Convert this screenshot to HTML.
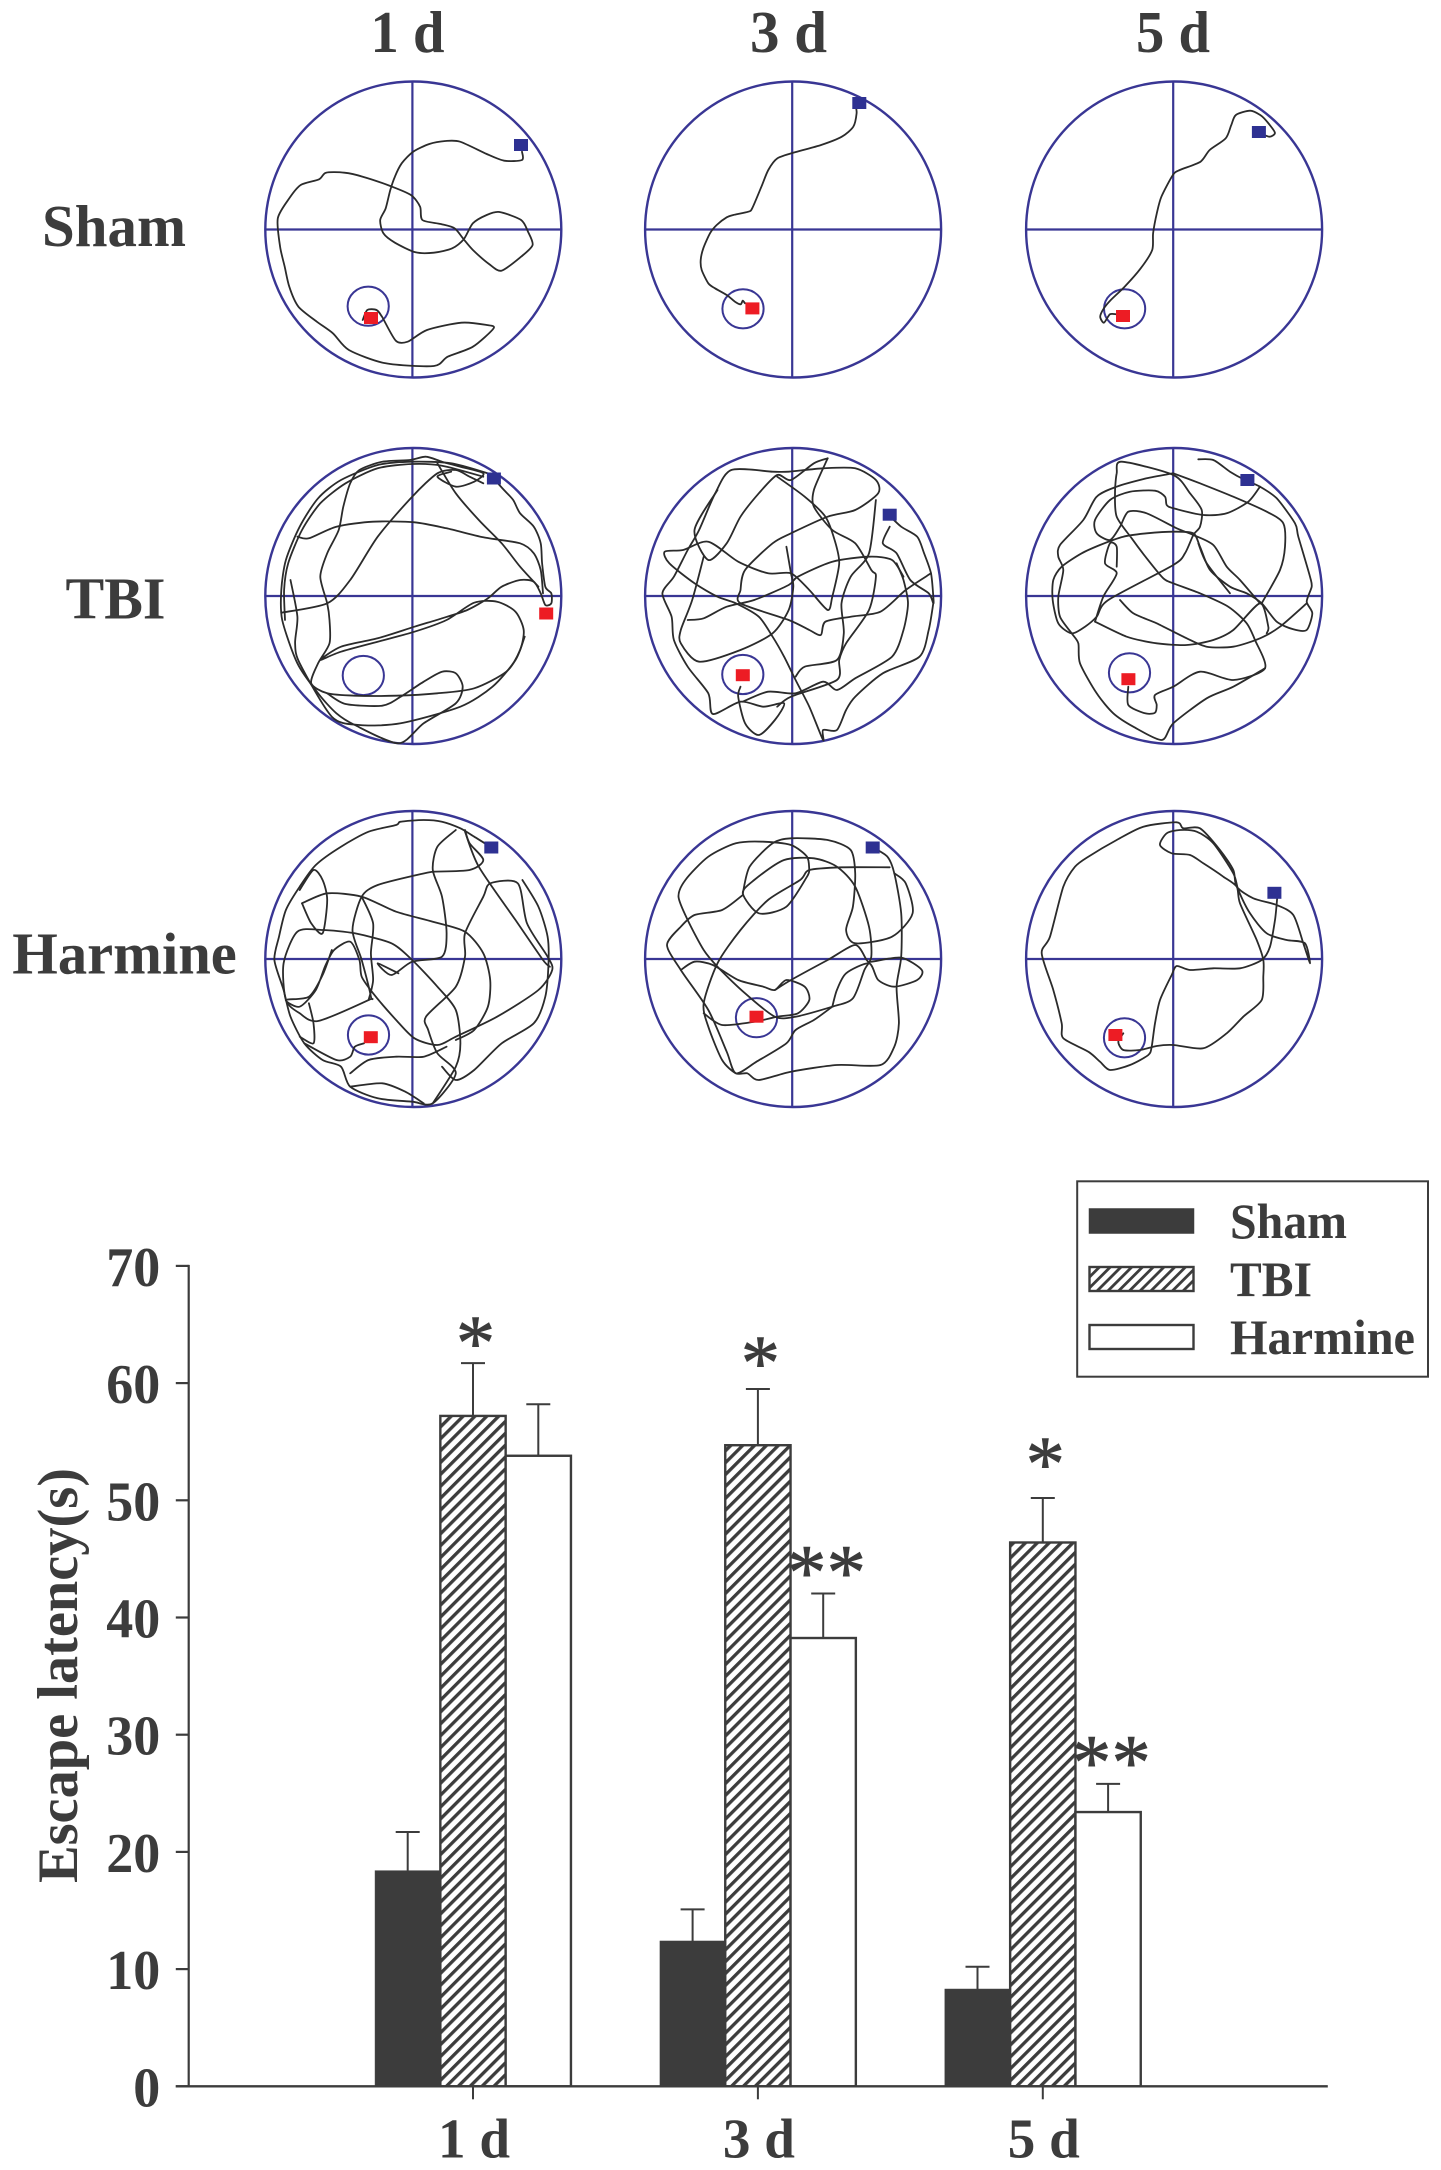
<!DOCTYPE html>
<html lang="en">
<head>
<meta charset="utf-8">
<title>Water maze trajectories and escape latency</title>
<style>
html,body{margin:0;padding:0;background:#fff;}
body{width:1441px;height:2170px;overflow:hidden;}
svg{display:block;}
text{font-family:"Liberation Serif","Times New Roman",serif;fill:#3c3c3c;font-weight:bold;}
.star{font-weight:normal;font-size:78px;stroke:#3c3c3c;stroke-width:0.9;}
</style>
</head>
<body>
<svg id="figure" xmlns="http://www.w3.org/2000/svg" width="1441" height="2170" viewBox="0 0 1441 2170">
  <defs>
    <pattern id="hatch" patternUnits="userSpaceOnUse" width="8.4" height="8.4" patternTransform="rotate(45)">
      <rect x="0" y="0" width="8.4" height="8.4" fill="#fff"></rect>
      <rect x="0" y="0" width="3.3" height="8.4" fill="#3c3c3c"></rect>
    </pattern>
    <pattern id="hatch-legend" patternUnits="userSpaceOnUse" width="7.6" height="7.6" patternTransform="rotate(45)">
      <rect x="0" y="0" width="7.6" height="7.6" fill="#fff"></rect>
      <rect x="0" y="0" width="2.8" height="7.6" fill="#3c3c3c"></rect>
    </pattern>
  </defs>
  <rect x="0" y="0" width="1441" height="2170" fill="#fff"></rect>

  <text x="370.5" y="52" font-size="59" textLength="74" lengthAdjust="spacingAndGlyphs">1 d</text>
  <text x="750" y="52" font-size="59" textLength="77" lengthAdjust="spacingAndGlyphs">3 d</text>
  <text x="1136" y="52" font-size="59" textLength="74" lengthAdjust="spacingAndGlyphs">5 d</text>
  <text x="42" y="246" font-size="59" textLength="144" lengthAdjust="spacingAndGlyphs">Sham</text>
  <text x="65.5" y="618.7" font-size="59" textLength="100" lengthAdjust="spacingAndGlyphs">TBI</text>
  <text x="12.3" y="973.3" font-size="59" textLength="224.5" lengthAdjust="spacingAndGlyphs">Harmine</text>

  <g id="panels"></g>
  <g id="chart"></g>

  <text transform="translate(77,1883) rotate(-90)" x="0" y="0" font-size="57" textLength="415" lengthAdjust="spacingAndGlyphs">Escape latency(s)</text>

  <g>
    <rect x="1077.2" y="1181.3" width="350.8" height="195.4" fill="#fff" stroke="#3c3c3c" stroke-width="2"></rect>
    <rect x="1089.5" y="1209" width="104" height="24" fill="#3c3c3c" stroke="#3c3c3c" stroke-width="1.5"></rect>
    <rect x="1089.5" y="1267" width="104" height="24" fill="url(#hatch-legend)" stroke="#3c3c3c" stroke-width="2.4"></rect>
    <rect x="1089.5" y="1325" width="104" height="24" fill="#fff" stroke="#3c3c3c" stroke-width="2.4"></rect>
    <text x="1230" y="1238" font-size="50" textLength="117" lengthAdjust="spacingAndGlyphs">Sham</text>
    <text x="1230" y="1296" font-size="50" textLength="82" lengthAdjust="spacingAndGlyphs">TBI</text>
    <text x="1230" y="1354" font-size="50" textLength="185" lengthAdjust="spacingAndGlyphs">Harmine</text>
  </g>
</svg>

<script>
/* ---------- escape latency chart data ---------- */
var categories = ['1 d', '3 d', '5 d'];
var seriesNames = ['sham', 'tbi', 'harmine'];
var shamValues = [18.4, 12.4, 8.3];
var tbiValues = [57.2, 54.7, 46.4];
var harmineValues = [53.8, 38.25, 23.4];
var shamErrors = [3.3, 2.7, 1.9];
var tbiErrors = [4.5, 4.8, 3.8];
var harmineErrors = [4.4, 3.8, 2.4];
var yTickLabels = [0, 10, 20, 30, 40, 50, 60, 70];
var tbiSignificance = [61.2, 59.5, 50.9];
var harmineSignificance = [null, 41.6, 25.4];

/* ---------- swim tracks ---------- */
var trackSham1 = [[1137,455,1137,480,1098,482,1060,462,1002,425,970,423,935,432,900,455,875,490,860,530,850,570,840,625,828,660,835,700,860,728,905,757,945,758,985,745,1010,718,1030,670,1060,645,1088,636,1135,660,1150,695,1160,735,1135,770,1092,812,1065,792,1030,750,1010,718,990,685,960,672,920,660,915,620,895,585,850,558,790,530,750,518,710,518,695,538,655,555,630,595,605,655,610,740,620,800,630,860,650,920,690,965,725,1000,760,1050,840,1090,945,1098,975,1070,1030,1040,1075,985,1060,975,1005,968,930,990,888,1025,862,1022,832,950,820,930,800,930,790,960]];
var trackSham3 = [[855.6,105,856.6,113.3,853.3,126.7,841.8,136.7,821.1,145,795.9,152,777.5,158.3,768.3,170,761.4,186.7,752.2,208.3,748.3,211.7,733.3,215,726.7,217.3,716.7,225,710,233.3,703.3,248.3,700.7,260,701.7,270,708.3,283.3,715,288.3,726.7,295,735,301.7,740.7,304.3,742.7,300.7,745,303.3]];
var trackSham5 = [[1170,397,1195,410,1207,398,1190,365,1175,345,1153,332,1122,345,1112,375,1100,415,1065,450,1045,485,1000,510,985,525,960,590,950,640,942,700,940,750,915,805,880,860,850,900,835,925,827,950,835,968,848,943,862,943]];
var trackTbi1 = [
 [552,145,575,180,595,210,610,250,640,290,655,340,658,400,665,470,678,490,678,520,665,525,655,490,640,455,610,450,570,470,540,505,495,540,440,565,380,590,300,625,220,650,175,690,220,665,300,635,380,605,450,570,510,518,560,515,600,545,618,600,610,660,580,725,510,775,430,790,340,797,250,797,190,790,155,760,170,700,195,640,195,570,190,520,175,440,190,370,215,300,225,230,240,160,260,120,310,95,370,90,405,80,440,95,480,110,530,130,510,155,470,170,430,140,460,125],
 [90,548,190,520,240,450,300,320,375,200,430,130,470,120,500,140,530,160],
 [125,320,150,325,210,290,290,275,380,277,450,295,530,322,610,340,640,370,655,420,660,490],
 [430,100,470,190,520,270,570,340,610,410,650,470],
 [540,130,460,100,375,95,300,105,220,150,170,205,130,290,100,390,90,480,92,570,125,700,170,790,210,850,250,885,345,940,400,880,470,820,485,770,470,730,440,725,400,755,350,800,310,827,230,822,190,790],
 [530,140,440,107,375,102,300,115,230,160,175,220,135,300,105,400,96,480,98,570],
 [110,450,125,560,120,640,130,700,200,860,260,885,350,880,480,830,550,770,600,690,620,620]
];
var trackTbi3 = [
 [1090,770,1085,800,1100,880,1130,915,1165,870,1185,820,1140,830,1090,815,1030,852,1020,790,975,710,945,630,940,560,920,490,945,440,975,360,1000,300,1035,190,1070,120,1160,125,1195,125,1270,115,1340,115,1385,150,1390,190,1340,240,1280,260,1200,310,1160,340,1100,420,1090,480,1090,520,1195,570,1240,600,1265,615,1275,575,1330,560,1395,545,1450,480,1505,430],
 [1280,85,1250,100,1200,150,1170,135,1130,190,1090,260,1060,340,1020,390,990,300,1040,180],
 [1170,140,1230,200,1275,260,1295,330,1305,400,1290,500,1280,540,1240,480,1200,430,1150,430,1085,395,1020,335,965,360,925,365,935,400,990,460,1040,500,1080,520,1130,560,1160,620,1185,680,1210,750,1240,830,1270,930,1270,900,1300,900,1320,840,1340,800,1400,730,1480,680,1500,600,1510,520],
 [1413,255,1440,290,1475,320,1490,370,1505,430,1510,500,1510,520,1500,490,1460,450,1430,370,1400,340,1415,290],
 [1430,400,1445,450,1455,520,1445,600,1420,680,1340,745,1300,780,1270,755,1210,790,1150,785,1095,815],
 [1280,85,1275,100,1250,180,1250,230,1290,300,1340,340,1375,420,1385,440,1370,540,1320,640,1305,690,1300,750,1200,800,1170,830],
 [975,570,1010,565,1060,530,1120,510,1195,465,1215,440,1290,395,1370,380,1420,390,1445,440],
 [1190,350,1200,430,1205,470,1195,540,1160,610,1090,660,1000,695,960,640,960,600,985,510,1010,380],
 [1210,740,1230,710,1300,690,1315,610,1310,520,1330,440,1370,370,1385,210]
];
var trackTbi5 = [
 [595,88,640,90,690,125,735,150,780,170,830,205,885,280,895,320,930,440,935,470,920,515,937,550,920,600,880,598,830,575,785,520,740,490,690,470,630,420,600,350,580,310,520,305,440,310,370,320,300,345,245,370,185,410,160,450,158,510,175,580,215,610,255,590,290,560,325,510,520,405,555,370,580,315,600,290,605,240,570,190,520,135,365,95,350,130,345,190,350,260,395,325,440,385,490,445,520,460,600,490,685,530,740,580,765,630,795,715,700,750,600,725,520,770,465,795,470,825,465,848,435,850,385,825,385,770],
 [520,130,440,145,350,170,290,200,250,270,180,345,175,380,190,420,175,500,180,560,215,610,235,640,240,700,290,790,340,850,400,890,485,930,520,880,620,805,700,770,795,715],
 [285,575,310,500,350,430,315,400,330,340,350,350,350,410],
 [285,575,380,620,470,640,560,645,640,630,700,600,780,520,805,590,800,610],
 [780,170,745,215,680,250,610,255,520,235,500,225,495,200,465,182,390,185,330,210,285,270,290,310,330,330,360,290,385,245,440,250,530,295,580,315,640,345,680,410,720,450,780,520],
 [360,510,400,550,470,580,560,625,620,650,700,650,780,625,840,590,920,520],
 [595,340,620,400,690,490],
 [785,520,840,420,855,350,850,280,800,245,700,200,600,160,520,130]
];
var trackHarmine1 = [
 [545,170,510,140,480,115,440,95,400,90,350,95,340,105,280,125,220,170,165,225,130,290,100,360,85,440,75,510,95,600,110,680,140,760,180,810,220,830,240,890,300,925,375,935,420,940,470,850,430,790,410,720,405,680,470,590,490,500,490,430,530,320,545,280,605,280,625,400,670,500,680,540,650,600,560,680,470,740,430,765,380,745,340,690,290,610,265,560,260,510,240,455,205,480,185,530,165,600,130,650,100,630,150,620,180,555,200,480],
 [135,340,190,310,265,320,340,365,420,395,490,425,530,490,545,570,540,650,510,720,470,750],
 [420,245,385,255,300,285,265,320,245,420,265,510,285,620,280,630,170,693,130,670,100,630,95,520,125,425,180,420,250,430,330,460,375,510,430,590,470,660,480,760,470,830,420,940],
 [135,340,155,400,180,430,190,330,180,270,160,240,130,300],
 [265,320,290,400,285,490,290,570,280,630],
 [345,550,300,520,330,555,375,515,440,500,450,430,440,320,420,240,430,170,470,120],
 [420,245,500,240,530,210,500,160,490,120],
 [490,125,520,230,600,390,660,510,675,530],
 [615,270,650,350,670,440,672,520,665,620,640,700,570,760,510,840,470,870,440,830],
 [240,850,280,810,340,800,400,800,450,770],
 [240,890,310,880,360,905,400,940],
 [150,640,160,700,160,760,130,740],
 [140,760,210,810,240,800,250,770,270,760]
];
var trackHarmine3 = [
 [1378,172,1410,200,1425,250,1440,370,1440,500,1430,590,1435,700,1425,770,1395,825,1300,825,1200,845,1130,870,1105,850,1080,850,1050,810,1020,710,1010,640,1040,520,1090,420,1150,330,1220,270,1240,240,1310,232,1415,232],
 [1240,240,1235,200,1200,165,1140,155,1080,160,1020,200,970,270,955,320,975,390,1010,480,1040,530,1100,610,1165,680,1210,680,1290,650,1335,625,1360,540,1375,500,1370,410,1340,290,1300,230,1250,205,1185,210,1120,270,1095,310,1130,370,1190,350,1235,260,1240,240],
 [1095,310,1110,230,1160,160,1200,145,1280,150,1330,180,1340,250,1335,350,1320,420,1340,460,1420,440,1465,370,1450,280,1425,250],
 [1095,315,1050,360,990,375,960,410,930,465,960,540,1020,660,1060,785,1080,850,1125,815,1190,760,1210,720,1250,690,1290,650],
 [960,540,990,515,1030,525,1085,570,1140,590,1165,600,1190,570,1230,590,1240,630,1215,670,1170,680,1120,695,1050,705,1010,670],
 [1165,600,1200,570,1280,510,1340,465,1365,510,1375,515,1440,503,1485,540,1475,570,1425,590,1390,570,1370,520,1320,550,1300,600,1290,650]
];
var trackHarmine5 = [[832,320,825,390,810,470,785,510,720,535,640,535,570,540,530,528,515,555,480,630,465,700,455,770,445,795,390,825,330,840,300,815,265,785,190,745,185,700,160,600,125,490,150,440,190,290,225,230,265,200,350,150,430,110,530,97,550,115,600,115,660,180,700,240,710,290,760,325,830,345,880,375,910,460,930,520,915,460,860,450,800,430,750,370,715,300,700,250,640,160,590,125,540,120,500,130,480,165,515,190,570,195,610,220,670,260,710,290,720,340,770,450,790,510,790,560,785,630,730,680,680,730,610,775,520,765,470,768,420,780,370,780,355,755,370,730]];

var panelNames = ['sham-1d','sham-3d','sham-5d','tbi-1d','tbi-3d','tbi-5d','harmine-1d','harmine-3d','harmine-5d'];
var panelTracks = [trackSham1,trackSham3,trackSham5,trackTbi1,trackTbi3,trackTbi5,trackHarmine1,trackHarmine3,trackHarmine5];

/* ---------- drawing helpers ---------- */
var NS = 'http://www.w3.org/2000/svg';
function make(tag, parent, props) {
  var el = document.createElementNS(NS, tag);
  for (var k in props) { el.setAttribute(k, props[k]); }
  parent.appendChild(el);
  return el;
}
/* smooth curve through a list of mapped points */
function smoothPath(pts) {
  var d = 'M' + pts[0][0].toFixed(1) + ' ' + pts[0][1].toFixed(1);
  var k = 0.13;
  for (var i = 0; i < pts.length - 1; i++) {
    var p0 = pts[Math.max(0, i - 1)];
    var p1 = pts[i];
    var p2 = pts[i + 1];
    var p3 = pts[Math.min(pts.length - 1, i + 2)];
    d += 'C' + (p1[0] + (p2[0] - p0[0]) * k).toFixed(1) + ' ' + (p1[1] + (p2[1] - p0[1]) * k).toFixed(1) + ' ' +
         (p2[0] - (p3[0] - p1[0]) * k).toFixed(1) + ' ' + (p2[1] - (p3[1] - p1[1]) * k).toFixed(1) + ' ' +
         p2[0].toFixed(1) + ' ' + p2[1].toFixed(1);
  }
  return d;
}

/* ---------- panels ---------- */
var panelsRoot = document.getElementById('panels');
var arenaCols = [412.4, 792.2, 1173.2];
var arenaRows = [229.5, 596, 959];
var arenaR = 148;
var BLUE = '#393694';
/* trace frames: origin and scale of the crop each track was traced in */
var frames = [
  [0,0,2.178,3],[0,0,1,1],[720,0,2.175,3],
  [240,430,2.178,3],[240,430,2.178,3],[1000,430,3,3],
  [240,790,2.178,3],[240,790,2.178,3],[1000,790,3,3]
];
var platforms = [
  [368.2,306.2],[743,308.8],[1124.6,308.8],
  [363.3,675.5],[742.8,674.5],[1129.5,672.8],
  [368.5,1035],[756.5,1017.7],[1124.5,1037.8]
];
var startMarks = [
  [521,145],[859.3,103],[1258.9,132],
  [493.9,478.5],[889.7,514.7],[1247.4,480],
  [491.3,847.5],[872.7,847.5],[1274.4,892.8]
];
var endMarks = [
  [371,318],[752.4,308.4],[1123,316],
  [546.2,613.5],[742.8,675.2],[1128.4,679.2],
  [370.8,1037.2],[756.5,1016.7],[1115.4,1035]
];

panelNames.forEach(function (name, i) {
  var cx = arenaCols[i % 3];
  var cy = arenaRows[Math.floor(i / 3)];
  var g = make('g', panelsRoot, {});
  
  

  var pool = make('ellipse', g, {cx: cx + 0.9, cy: cy, rx: arenaR, ry: arenaR, fill: 'none', stroke: BLUE, 'stroke-width': 2.4});
  
  

  var h = make('line', g, {x1: cx - arenaR + 1, x2: cx + arenaR + 1, y1: cy, y2: cy, stroke: BLUE, 'stroke-width': 2.2});
  
  

  var v = make('line', g, {x1: cx, x2: cx, y1: cy - arenaR, y2: cy + arenaR, stroke: BLUE, 'stroke-width': 2.2});
  
  

  var plat = make('ellipse', g, {cx: platforms[i][0], cy: platforms[i][1], rx: 20.6, ry: 19.6, fill: 'none', stroke: BLUE, 'stroke-width': 2});
  
  

  var f = frames[i];
  panelTracks[i].forEach(function (seg) {
    var pts = [];
    for (var p = 0; p < seg.length; p += 2) {
      pts.push([f[0] + seg[p] / f[2], f[1] + seg[p + 1] / f[3]]);
    }
    var t = make('path', g, {d: smoothPath(pts), fill: 'none', stroke: '#2b2b2b', 'stroke-width': 1.8, 'stroke-linejoin': 'round', 'stroke-linecap': 'round'});
    
    
  });

  var s = make('rect', g, {x: startMarks[i][0] - 7, y: startMarks[i][1] - 6, width: 14, height: 12, fill: '#2e3192'});
  
  

  var e = make('rect', g, {x: endMarks[i][0] - 7, y: endMarks[i][1] - 6, width: 14, height: 12, fill: '#ed1c24'});
  
  
});

/* ---------- bar chart ---------- */
var chart = document.getElementById('chart');
var INK = '#3c3c3c';
function yScale(v) { return 2086.3 - v * 11.72; }
function xGroup(i) { return 473 + i * 284.9; }
var barWidth = 65.3;
var seriesValues = [shamValues, tbiValues, harmineValues];
var seriesErrors = [shamErrors, tbiErrors, harmineErrors];
var seriesFill = [INK, 'url(#hatch)', '#fff'];

categories.forEach(function (cat, c) {
  seriesNames.forEach(function (sName, s) {
    var left = xGroup(c) + (s - 1.5) * barWidth;
    var mid = left + barWidth / 2;
    var val = seriesValues[s][c];
    var err = val + seriesErrors[s][c];

    var stem = make('line', chart, {x1: mid, x2: mid, y1: yScale(val), y2: yScale(err), stroke: INK, 'stroke-width': 2});
    
    

    var cap = make('line', chart, {x1: mid - 12, x2: mid + 12, y1: yScale(err), y2: yScale(err), stroke: INK, 'stroke-width': 2});
    
    

    var bar = make('rect', chart, {x: left, y: yScale(val), width: barWidth, height: yScale(0) - yScale(val), fill: seriesFill[s], stroke: INK, 'stroke-width': s === 0 ? 0.5 : 2.4});
    
    
  });

  var tick = make('line', chart, {x1: xGroup(c), x2: xGroup(c), y1: yScale(0), y2: yScale(0) + 13, stroke: INK, 'stroke-width': 2});
  
  

  var label = make('text', chart, {x: xGroup(c) + 1, y: 2157.3, 'font-size': 56, 'text-anchor': 'middle', textLength: 72, lengthAdjust: 'spacingAndGlyphs'});
  label.textContent = cat;
  
  

  if (tbiSignificance[c] !== null) {
    var star = make('text', chart, {x: xGroup(c) + 2.5, y: yScale(tbiSignificance[c]), 'text-anchor': 'middle', 'class': 'star'});
    star.textContent = '*';
    
    
  }
  if (harmineSignificance[c] !== null) {
    [-19.5, 20].forEach(function (dx, k) {
      var st = make('text', chart, {x: xGroup(c) + barWidth + 3 + dx, y: yScale(harmineSignificance[c]), 'text-anchor': 'middle', 'class': 'star'});
      st.textContent = '*';
      
      
    });
  }
});

var yAxis = make('line', chart, {x1: 188.7, x2: 188.7, y1: yScale(70) - 1, y2: yScale(0) + 1, stroke: INK, 'stroke-width': 2.2});



var xAxis = make('line', chart, {x1: 175.8, x2: 1327.8, y1: yScale(0), y2: yScale(0), stroke: INK, 'stroke-width': 2.4});



yTickLabels.forEach(function (v) {
  var t = make('line', chart, {x1: 175.8, x2: 188.7, y1: yScale(v), y2: yScale(v), stroke: INK, 'stroke-width': 2.2});
  
  

  var lab = make('text', chart, {x: 160.3, y: yScale(v) + 20, 'font-size': 56, 'text-anchor': 'end', textLength: String(v).length * 27, lengthAdjust: 'spacingAndGlyphs'});
  lab.textContent = String(v);
  
  
});
</script>
</body>
</html>
